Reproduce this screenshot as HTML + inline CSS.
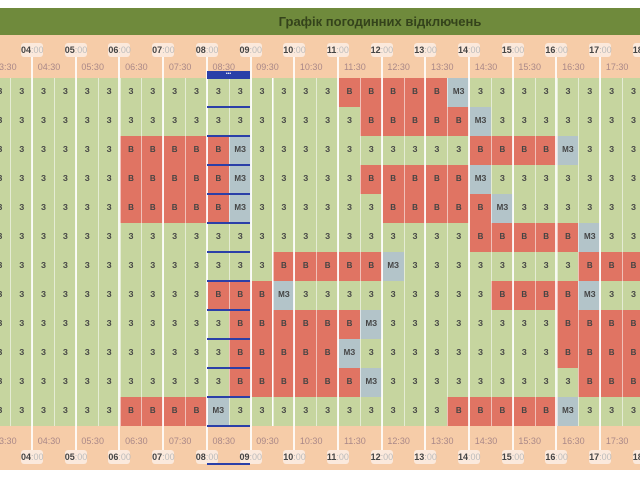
<!DOCTYPE html>
<html><head><meta charset="utf-8"><style>
body{margin:0;width:640px;height:480px;overflow:hidden;background:#fff;font-family:"Liberation Sans",sans-serif;position:relative}
div{position:absolute;box-sizing:border-box}
.c{height:28.8px;text-align:center;line-height:28.8px;font-size:8px;color:#444;font-weight:bold;border-left:1px solid rgba(255,255,255,.55)}
.g{background:#c6d59f}.r{background:#e07463}.m{background:#b3c4c9}
.hl{width:2px;background:#fff;opacity:.85}
.hb{width:22px;height:14px;background:#fbe9dc;border-radius:3px;font-size:9px;line-height:14px;text-align:center;color:#444;font-weight:bold}
.hb span{font-weight:normal;color:#bbb}
.hh{font-size:9px;color:#a88;width:40px;text-align:center}
.bl{height:2px;background:#2b3fa8;left:207px;width:43px}
</style></head><body>
<div style="left:0;top:8px;width:640px;height:27px;background:#6f8a3c"></div>
<div style="left:0;top:8px;width:760px;height:27px;line-height:27px;text-align:center;font-weight:bold;font-size:13px;color:#34431b">Графік погодинних відключень</div>
<div style="left:0;top:35px;width:640px;height:43px;background:#f6cca8"></div>
<div style="left:0;top:426px;width:640px;height:44px;background:#f6cca8"></div>
<div id="g"></div>
<script>
var rows=[
{15:'r',16:'r',17:'r',18:'r',19:'r',20:'m'},
{16:'r',17:'r',18:'r',19:'r',20:'r',21:'m'},
{5:'r',6:'r',7:'r',8:'r',9:'r',10:'m',21:'r',22:'r',23:'r',24:'r',25:'m'},
{5:'r',6:'r',7:'r',8:'r',9:'r',10:'m',16:'r',17:'r',18:'r',19:'r',20:'r',21:'m'},
{5:'r',6:'r',7:'r',8:'r',9:'r',10:'m',17:'r',18:'r',19:'r',20:'r',21:'r',22:'m'},
{21:'r',22:'r',23:'r',24:'r',25:'r',26:'m'},
{12:'r',13:'r',14:'r',15:'r',16:'r',17:'m',26:'r',27:'r',28:'r'},
{9:'r',10:'r',11:'r',12:'m',22:'r',23:'r',24:'r',25:'r',26:'m'},
{10:'r',11:'r',12:'r',13:'r',14:'r',15:'r',16:'m',25:'r',26:'r',27:'r',28:'r'},
{10:'r',11:'r',12:'r',13:'r',14:'r',15:'m',25:'r',26:'r',27:'r',28:'r'},
{10:'r',11:'r',12:'r',13:'r',14:'r',15:'r',16:'m',26:'r',27:'r',28:'r'},
{5:'r',6:'r',7:'r',8:'r',9:'m',20:'r',21:'r',22:'r',23:'r',24:'r',25:'m'}];
var h='',W=21.85;
rows.forEach(function(r,i){var y=78+i*29;for(var k=-1;k<=29;k++){var t=r[k]||'g';var x=10.3+W*k;
h+='<div class="c '+t+'" style="left:'+x+'px;top:'+y+'px;width:'+W+'px;height:29px">'+(t=='r'?'В':t=='m'?'МЗ':'З')+'</div>';}});
for(var n=0;n<=15;n++){var x=32+43.7*(n-1);var hr=n+3;var s=(hr<10?'0':'')+hr;
h+='<div class="hl" style="left:'+(x-1)+'px;top:52px;height:412px"></div>';
h+='<div class="hb" style="left:'+(x-11)+'px;top:43px">'+s+'<span>:00</span></div>';
h+='<div class="hb" style="left:'+(x-11)+'px;top:450px">'+s+'<span>:00</span></div>';
h+='<div class="hh" style="left:'+(x-20+17)+'px;top:62px">'+s+':30</div>';
h+='<div class="hh" style="left:'+(x-20+17)+'px;top:436px">'+s+':30</div>';}
for(var i=0;i<=12;i++)h+='<div class="bl" style="top:'+(77+i*29)+'px"></div>';
h+='<div style="left:207px;top:71px;width:43px;height:7px;background:#2b3fa8;color:#fff;font-size:5px;line-height:7px;text-align:center">•••</div>';
h+='<div class="bl" style="top:463px"></div>';
document.getElementById('g').outerHTML=h;
</script>
</body></html>
